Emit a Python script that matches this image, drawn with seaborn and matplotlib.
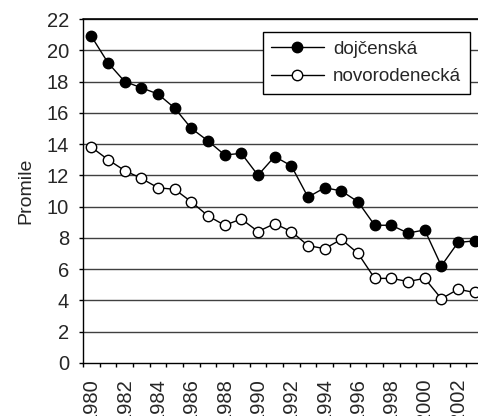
import numpy as np
import pandas as pd
import seaborn as sns
import matplotlib
matplotlib.use("Agg")
import matplotlib.pyplot as plt
from matplotlib.ticker import FixedLocator

#%% Data
years = list(range(1980, 2004))
dojcenska = [20.9, 19.2, 18.0, 17.6, 17.2, 16.3, 15.0, 14.2, 13.3, 13.4,
             12.0, 13.2, 12.6, 10.6, 11.2, 11.0, 10.3, 8.8, 8.8, 8.3,
             8.5, 6.2, 7.7, 7.8]
novorodenecka = [13.8, 13.0, 12.3, 11.8, 11.2, 11.1, 10.3, 9.4, 8.8, 9.2,
                 8.4, 8.9, 8.4, 7.5, 7.3, 7.9, 7.0, 5.4, 5.4, 5.2,
                 5.4, 4.1, 4.7, 4.5]
y_ticks = list(range(0, 23, 2))

df = pd.DataFrame({"pos": np.arange(len(years)),
                   "dojčenská": dojcenska,
                   "novorodenecká": novorodenecka})

#%% Plot
sns.set_style("white")
plt.rcParams["font.family"] = ["Liberation Sans", "DejaVu Sans"]

fig = plt.figure(figsize=(4.78, 4.16), dpi=100)
ax = fig.add_axes([0.1736, 0.128, 0.8369, 0.8263])

for y in y_ticks[1:]:
    ax.axhline(y, color="#404040", lw=1.0, zorder=1)

sns.lineplot(data=df, x="pos", y="dojčenská", ax=ax, color="black", lw=1.0,
             marker="o", markersize=7.5, markerfacecolor="black",
             markeredgecolor="black", markeredgewidth=1.0,
             label="dojčenská", zorder=3)
sns.lineplot(data=df, x="pos", y="novorodenecká", ax=ax, color="black", lw=1.0,
             marker="o", markersize=7.5, markerfacecolor="white",
             markeredgecolor="black", markeredgewidth=1.0,
             label="novorodenecká", zorder=3)

ax.set_xlim(-0.5, len(years) - 0.5)
ax.set_ylim(0, 22)
ax.set_yticks(y_ticks)
ax.set_yticklabels([str(v) for v in y_ticks], fontsize=14.5)

ax.set_xticks(np.arange(0, len(years), 2))
ax.set_xticklabels([str(y) for y in years[::2]], rotation=90, fontsize=14.5)
ax.xaxis.set_minor_locator(FixedLocator(np.arange(-0.5, len(years), 1.0)))
ax.tick_params(axis="x", which="major", length=0, pad=11)
ax.tick_params(axis="x", which="minor", length=3, width=1, color="black",
               direction="out", bottom=True)
ax.tick_params(axis="y", length=3, width=1, color="black", direction="out",
               left=True, pad=7)

ax.set_xlabel("")
ax.set_ylabel("Promile", fontsize=14, labelpad=9)

for s in ["left", "bottom"]:
    ax.spines[s].set_color("black")
    ax.spines[s].set_linewidth(1.0)
ax.spines["right"].set_visible(False)
ax.spines["top"].set_visible(False)
ax.axhline(22, color="black", lw=1.2, zorder=2, clip_on=False)

leg = ax.legend(loc="upper right", bbox_to_anchor=(0.9665, 0.962), fontsize=13.5,
                frameon=True, fancybox=False, framealpha=1, edgecolor="black",
                handlelength=2.8, handletextpad=0.5, borderpad=0.45,
                labelspacing=0.55, borderaxespad=0)
leg.get_frame().set_linewidth(1.0)

fig.savefig("out.png", dpi=100)
